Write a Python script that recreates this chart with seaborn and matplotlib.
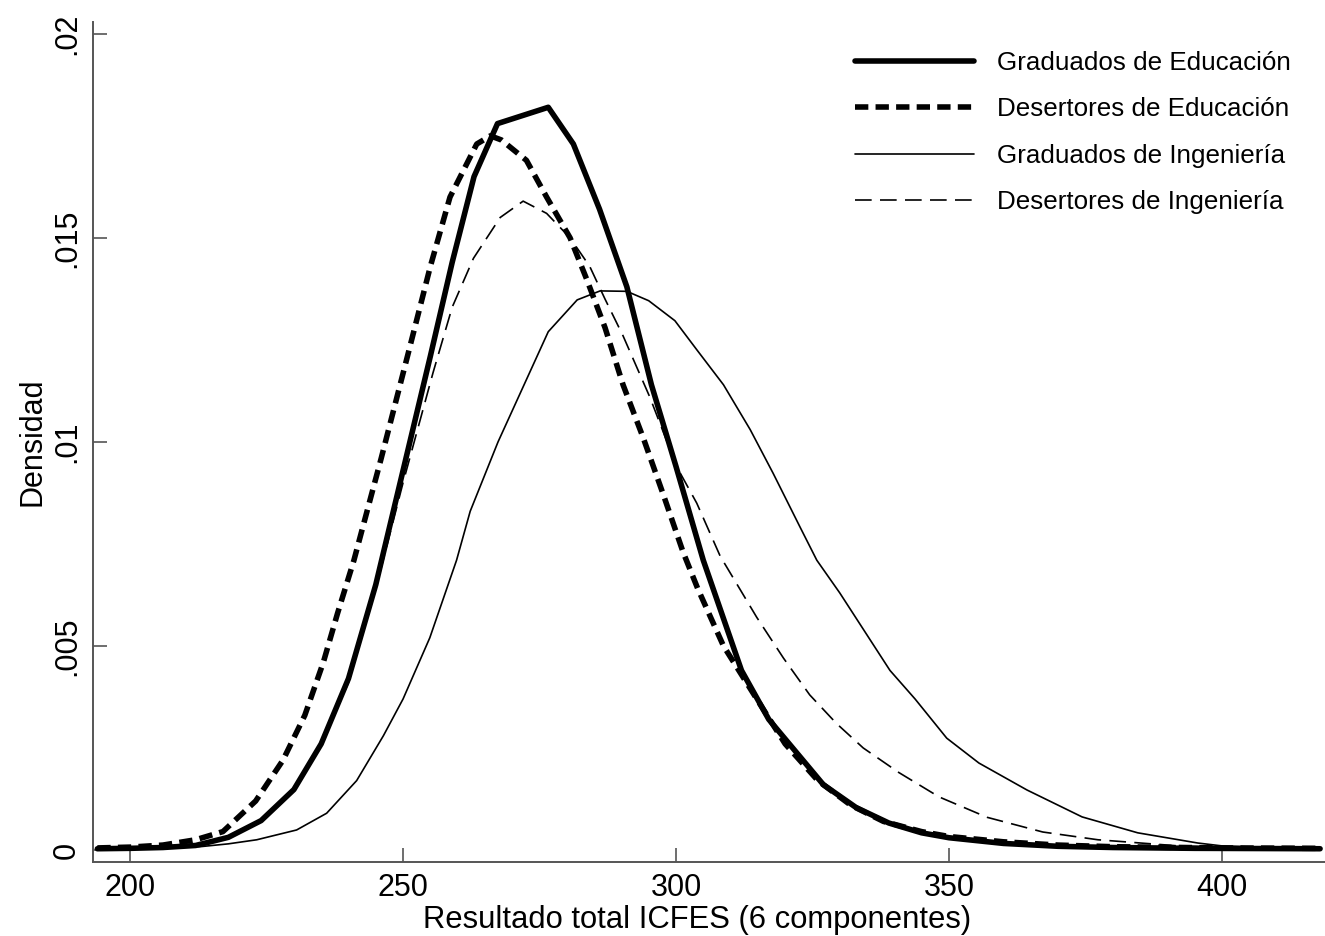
import matplotlib
matplotlib.use("Agg")
import matplotlib.pyplot as plt
import seaborn as sns
import pandas as pd

# puntos (kdensity)
grad_edu_x = [194, 200, 206, 212, 218, 224, 230, 235, 240, 245, 250, 255, 259, 263, 267.3,
              276.6, 281.2, 286, 291, 295.5, 300, 305, 312, 317, 322, 327, 333, 339, 345,
              350, 360, 370, 380, 395, 418]
grad_edu_y = [0.00003, 0.00004, 0.00006, 0.00011, 0.00031, 0.00072, 0.00148, 0.0026, 0.0042,
              0.0065, 0.0093, 0.0121, 0.0144, 0.0165, 0.0178, 0.0182, 0.0173, 0.0157, 0.0138,
              0.0114, 0.0094, 0.0071, 0.0044, 0.0032, 0.0024, 0.0016, 0.00104, 0.00066,
              0.00042, 0.0003, 0.00016, 0.00009, 0.00006, 0.00004, 0.00003]

des_edu_x = [194, 200, 206, 212, 217, 223, 228, 232, 235.4, 238, 241, 246, 251, 255, 258.6,
             263.5, 266, 268, 272.6, 276.3, 280.6, 283.6, 287, 290.3, 294, 297.7, 301.3, 304,
             308.7, 314.8, 320, 326, 332, 338, 345, 350, 360, 370, 380, 400, 418]
des_edu_y = [0.00005, 0.00007, 0.00012, 0.00025, 0.00045, 0.0012, 0.0022, 0.0033, 0.0046,
             0.0058, 0.0071, 0.0096, 0.0122, 0.0143, 0.0160, 0.0173, 0.0175, 0.0174, 0.0169,
             0.0160, 0.0150, 0.0140, 0.0128, 0.0114, 0.0101, 0.0087, 0.0073, 0.0064, 0.0050,
             0.0037, 0.0026, 0.0017, 0.0011, 0.0007, 0.00045, 0.00033, 0.0002, 0.00012,
             0.00008, 0.00005, 0.00004]

grad_ing_x = [194, 200, 206, 212.8, 218, 223.2, 230.5, 236, 241.5, 246.4, 250, 254.9, 259.8,
              262.3, 267.4, 276.6, 281.9, 286.1, 291, 295, 299.8, 303.8, 308.7, 313.6, 317.8,
              322.7, 325.8, 330, 339.2, 343.8, 349.6, 355.5, 364.3, 374.4, 384.6, 395.6, 400,
              410, 418]
grad_ing_y = [0.00002, 0.00003, 0.00005, 0.00008, 0.00015, 0.00025, 0.00049, 0.0009, 0.0017,
              0.0028, 0.0037, 0.0052, 0.0071, 0.0083, 0.0100, 0.0127, 0.01348, 0.0137, 0.01369,
              0.01346, 0.01297, 0.01226, 0.0114, 0.0103, 0.00923, 0.00792, 0.0071, 0.0063,
              0.0044, 0.0037, 0.00274, 0.00213, 0.00147, 0.00081, 0.00042, 0.00017, 0.0001,
              0.00005, 0.00003]

des_ing_x = [194, 200, 206, 212, 218, 224, 230, 235, 240, 245, 250, 255.5, 259, 262.9, 267.8,
             272, 276.3, 280.6, 284.2, 287, 290.3, 295.2, 300.1, 303.8, 308.1, 314.8, 319.7,
             324.5, 329.4, 334.3, 340.8, 348.2, 357, 367.2, 377.3, 392, 405, 418]
des_ing_y = [0.00003, 0.00004, 0.00007, 0.00014, 0.0003, 0.0007, 0.0015, 0.0026, 0.0041,
             0.0064, 0.0090, 0.0117, 0.0133, 0.0145, 0.0155, 0.0159, 0.0156, 0.0150, 0.0143,
             0.0135, 0.0126, 0.0111, 0.0094, 0.0085, 0.0072, 0.0057, 0.0047, 0.0038, 0.0031,
             0.0025, 0.0019, 0.0013, 0.0008, 0.00044, 0.00025, 0.0001, 0.00005, 0.00003]

labels = ["Graduados de Educación", "Desertores de Educación",
          "Graduados de Ingeniería", "Desertores de Ingeniería"]
xticks = [200, 250, 300, 350, 400]
yticks = [0, 0.005, 0.01, 0.015, 0.02]
ytick_labels = ["0", ".005", ".01", ".015", ".02"]

sns.set_style("white")
plt.rcParams["font.family"] = ["Liberation Sans", "DejaVu Sans"]
plt.rcParams["text.color"] = "black"
plt.rcParams["axes.labelcolor"] = "black"
plt.rcParams["xtick.color"] = "black"
plt.rcParams["ytick.color"] = "black"

fig = plt.figure(figsize=(13.25, 9.36), dpi=100)
ax = fig.add_axes([0.0702, 0.0791, 0.9298, 0.8974])

series = [(grad_edu_x, grad_edu_y), (des_edu_x, des_edu_y),
          (grad_ing_x, grad_ing_y), (des_ing_x, des_ing_y)]
styles = [dict(lw=4.0, ls="-"), dict(lw=4.0, ls=(0, (2.4, 1.3))),
          dict(lw=1.2, ls="-"), dict(lw=1.2, ls=(0, (10, 5)))]

for (xs, ys), lab, st in zip(series, labels, styles):
    df = pd.DataFrame({"x": xs, "y": ys})
    sns.lineplot(data=df, x="x", y="y", ax=ax, color="black", label=lab,
                 linewidth=st["lw"], linestyle=st["ls"])

ax.set_xlim(193.2, 418.9)
ax.set_ylim(-0.000294, 0.02029)
ax.set_xticks(xticks)
ax.set_xticklabels([str(t) for t in xticks])
ax.set_yticks(yticks)
ax.set_yticklabels(ytick_labels, rotation=90, va="center")
ax.tick_params(axis="both", direction="in", length=10, width=1.2,
               bottom=True, left=True, labelsize=22, pad=8)
for t in ax.get_xticklines() + ax.get_yticklines():
    t.set_markeredgecolor("#555555")

for side in ["top", "right"]:
    ax.spines[side].set_visible(False)
for side in ["left", "bottom"]:
    ax.spines[side].set_color("#555555")
    ax.spines[side].set_linewidth(1.4)

ax.set_xlabel("Resultado total ICFES (6 componentes)", fontsize=22.3)
ax.xaxis.set_label_coords(0.4907, -0.051)
ax.set_ylabel("Densidad", fontsize=22, labelpad=3)

ax.legend(loc="upper left", bbox_to_anchor=(855 / 1325, 1 - 51 / 936),
          bbox_transform=fig.transFigure, frameon=False, fontsize=18.7,
          handlelength=4.6, handletextpad=0.85, labelspacing=0.86,
          borderpad=0, borderaxespad=0)

fig.savefig("out.png", dpi=100)
